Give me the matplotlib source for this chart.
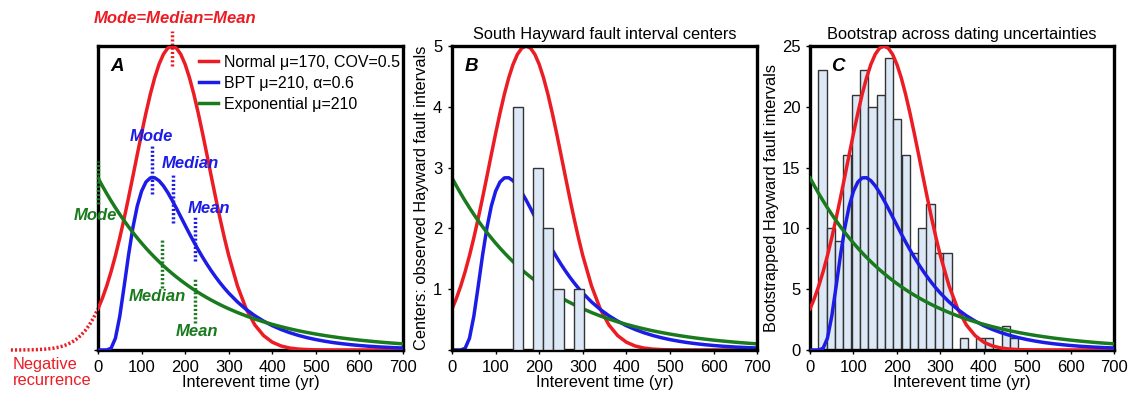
import matplotlib
matplotlib.use("Agg")
import matplotlib.pyplot as plt

plt.rcParams['font.family'] = ['Liberation Sans', 'DejaVu Sans']

# --- DATA (curves normalised so the Normal peak = 1) ---
t = [0, 10, 20, 30, 40, 50, 60, 70, 80, 90, 100, 110, 120, 130, 140, 150,
     160, 170, 180, 190, 200, 210, 220, 230, 240, 250, 260, 270, 280, 290, 300,
     320, 340, 360, 380, 400, 420, 440, 460, 480, 500, 520, 540, 560, 580, 600,
     620, 640, 660, 680, 700]

normal = [.1353, .1701, .2108, .2576, .3105, .3692, .4328, .5005, .5709, .6422,
          .7124, .7795, .8411, .8952, .9396, .9727, .9931, 1.0, .9931, .9727,
          .9396, .8952, .8411, .7795, .7124, .6422, .5709, .5005, .4328, .3692,
          .3105, .2108, .1353, .0822, .0473, .0257, .0132, .0064, .0030, .0013,
          .0005, .0002, .0001, 0, 0, 0, 0, 0, 0, 0, 0]

bpt = [0, 0, .0001, .0056, .0387, .1113, .2096, .3116, .4020, .4729, .5225,
       .5526, .5662, .5667, .5570, .5402, .5183, .4931, .4660, .4380, .4100,
       .3822, .3554, .3297, .3052, .2821, .2604, .2401, .2211, .2035, .1872,
       .1582, .1335, .1126, .0950, .0800, .0675, .0569, .0480, .0405, .0342,
       .0289, .0244, .0207, .0175, .0148, .0125, .0106, .0090, .0077, .0065]

expo = [.5660, .5397, .5146, .4907, .4679, .4461, .4254, .4056, .3867, .3687,
        .3516, .3352, .3196, .3048, .2906, .2771, .2642, .2519, .2402, .2290,
        .2184, .2082, .1985, .1893, .1805, .1721, .1641, .1565, .1492, .1422,
        .1357, .1233, .1121, .1019, .0927, .0843, .0766, .0697, .0633, .0576,
        .0524, .0476, .0433, .0393, .0358, .0325, .0296, .0269, .0244, .0222,
        .0202]

# negative-time tail of the normal ("negative recurrence")
t_neg = [-200, -190, -180, -170, -160, -150, -140, -130, -120, -110, -100,
         -90, -80, -70, -60, -50, -40, -30, -20, -10, 0]
normal_neg = [.0001, .0001, .0002, .0003, .0005, .0008, .0013, .0020, .0030,
              .0044, .0064, .0093, .0132, .0186, .0257, .0351, .0473, .0628,
              .0822, .1062, .1353]

# panel B: observed interval centers
b_left = [139, 162.4, 185.8, 209.2, 232.6, 256, 279.4]
b_counts = [4, 0, 3, 2, 1, 0, 1]
b_width = 23.4

# panel C: bootstrap counts
c_left = [19, 38, 57, 76, 96, 115, 134, 153, 172, 191, 211, 230, 249, 268,
          287, 307, 326, 345, 364, 383, 403, 422, 441, 460]
c_counts = [23, 10, 9, 16, 21, 23, 20, 21, 24, 19, 16, 8, 10, 12, 8, 8, 0, 1,
            0, 1, 1, 0, 2, 1]
c_width = 19.2

# statistic markers in panel A: (x, y_low, y_high)
normal_mark = (170, 0.934, 1.05)
bpt_marks = {'Mode': (123, 0.513, 0.671), 'Median': (171, 0.419, 0.579),
             'Mean': (222, 0.293, 0.441)}
exp_marks = {'Mode': (0, 0.480, 0.622), 'Median': (146, 0.205, 0.369),
             'Mean': (222, 0.090, 0.238)}

RED = '#ec1c24'
BLUE = '#1c1ce6'
GREEN = '#1a7a1e'
BAR_FACE = '#dce8f6'
LW = 2.5
DOT = (0, (0.6, 0.6))
FS = 11.8

fig = plt.figure(figsize=(11.29, 4.01), dpi=100)
axA = fig.add_axes([0.0868, 0.1272, 0.2702, 0.758])
axB = fig.add_axes([0.4004, 0.1272, 0.2702, 0.758])
axC = fig.add_axes([0.7175, 0.1272, 0.2693, 0.758])


def style_axis(ax, ymax):
    ax.set_xlim(0, 700)
    ax.set_ylim(0, ymax)
    for s in ax.spines.values():
        s.set_linewidth(2.4)
        s.set_color('black')
    ax.set_xticks(range(0, 701, 100))
    ax.tick_params(axis='both', direction='out', length=3, width=1,
                   labelsize=12, pad=4)
    ax.set_xlabel('Interevent time (yr)', fontsize=FS, labelpad=0)


def draw_curves(ax, scale, z):
    ax.plot(t, [v * scale for v in normal], color=RED, lw=LW, zorder=z,
            label='Normal \u03bc=170, COV=0.5')
    ax.plot(t, [v * scale for v in bpt], color=BLUE, lw=LW, zorder=z,
            label='BPT \u03bc=210, \u03b1=0.6')
    ax.plot(t, [v * scale for v in expo], color=GREEN, lw=LW, zorder=z,
            label='Exponential \u03bc=210')


# --- PANEL A ---
draw_curves(axA, 1.0, 3)
style_axis(axA, 1.0)
axA.set_yticks([0])
axA.set_yticklabels([''])
axA.plot(t_neg, normal_neg, color=RED, lw=LW, ls=DOT, clip_on=False)
axA.legend(loc='upper left', bbox_to_anchor=(0.33, 0.972), frameon=False,
           handlelength=1.2, handletextpad=0.4, borderaxespad=0, borderpad=0,
           labelspacing=0.38, fontsize=11.5)
axA.text(0.04, 0.96, 'A', transform=axA.transAxes, fontsize=13.5,
         fontweight='bold', style='italic', va='top')

ann = dict(fontsize=12, fontweight='bold', style='italic', ha='center',
           va='center')
x0, y0, y1 = normal_mark
axA.plot([x0, x0], [y0, y1], color=RED, lw=LW, ls=DOT, clip_on=False)
axA.text(177, 1.092, 'Mode=Median=Mean', color=RED, clip_on=False, **ann)

for (name, (x0, y0, y1)), pos in zip(bpt_marks.items(),
                                      [(122, 0.704), (211, 0.612), (255, 0.467)]):
    axA.plot([x0, x0], [y0, y1], color=BLUE, lw=LW, ls=DOT)
    axA.text(pos[0], pos[1], name, color=BLUE, **ann)

for (name, (x0, y0, y1)), pos in zip(exp_marks.items(),
                                      [(-5, 0.441), (136, 0.175), (227, 0.060)]):
    axA.plot([x0, x0], [y0, y1], color=GREEN, lw=LW, ls=DOT, clip_on=False,
             zorder=6)
    axA.text(pos[0], pos[1], name, color=GREEN, clip_on=False, **ann)

axA.text(-196, -0.022, 'Negative\nrecurrence', color=RED, fontsize=11.8,
         ha='left', va='top', linespacing=1.15, clip_on=False)

# --- PANEL B ---
draw_curves(axB, 5.0, 2)
axB.bar(b_left, b_counts, width=b_width, align='edge', color=BAR_FACE,
        edgecolor='#333333', linewidth=1, zorder=3)
style_axis(axB, 5)
axB.set_yticks([0, 1, 2, 3, 4, 5])
axB.set_yticklabels(['', '1', '2', '3', '4', '5'])
axB.set_ylabel('Centers: observed Hayward fault intervals', fontsize=FS,
               labelpad=3)
axB.set_title('South Hayward fault interval centers', fontsize=FS, pad=5)
axB.text(0.04, 0.96, 'B', transform=axB.transAxes, fontsize=13.5,
         fontweight='bold', style='italic', va='top', zorder=5)

# --- PANEL C ---
axC.bar(c_left, c_counts, width=c_width, align='edge', color=BAR_FACE,
        edgecolor='#333333', linewidth=1, zorder=2)
draw_curves(axC, 25.0, 3)
style_axis(axC, 25)
axC.set_yticks([0, 5, 10, 15, 20, 25])
axC.set_ylabel('Bootstrapped Hayward fault intervals', fontsize=FS,
               labelpad=2)
axC.set_title('Bootstrap across dating uncertainties', fontsize=FS, pad=5)
axC.text(0.07, 0.96, 'C', transform=axC.transAxes, fontsize=13.5,
         fontweight='bold', style='italic', va='top', zorder=5)

fig.savefig('out.png', dpi=100)
